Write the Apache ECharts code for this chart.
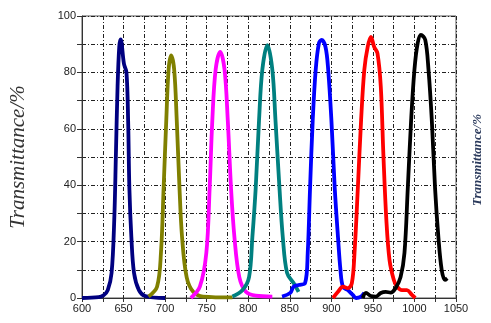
<!DOCTYPE html>
<html><head><meta charset="utf-8">
<script src="https://cdn.jsdelivr.net/npm/echarts@6/dist/echarts.min.js"></script>
<style>html,body{margin:0;padding:0;background:#fff}#c{width:491px;height:323px}</style>
</head><body><div id="c"></div>
<script>
const xTicks = [600, 650, 700, 750, 800, 850, 900, 950, 1000, 1050];
const yTicks = [0, 20, 40, 60, 80, 100];
const titleText = "Transmittance/%";

const navyData = [[600,0],[620,0.3],[626,1],[631,2.8],[635.6,8.9],[638.8,27.7],[640.8,51],[642.8,75],[644.8,89],[646.5,91.7],[650.5,83],[653.5,80],[655.5,63],[657,39],[659.4,21.6],[662.6,8.9],[668.5,2.8],[676,0.7],[700,0]];
const oliveData = [[680,0.5],[690.3,4],[695,16],[698.2,39],[701.4,63],[704.2,81],[707.2,86],[710.9,81],[714,63],[717.3,39],[720.4,21.6],[725.9,7.4],[733.8,2.2],[745.7,0.5],[781,0.2]];
const magentaData = [[731,0],[741.8,4],[749.6,16],[753.6,39],[756.8,63],[760.8,81],[766.3,87.3],[771.5,81],[775.4,63],[779.3,39],[783.4,21.6],[789.3,7.4],[797.2,2.2],[809,0.8],[829,0.5]];
const tealData = [[781,0.5],[793.2,2.8],[801,7.4],[805,21.6],[809,39],[813,63],[817,81],[823,89.7],[829,81],[832.8,63],[837.6,39],[841.6,21.6],[846.7,8.9],[854.6,5.3],[860.6,2.2]];
const blueData = [[840.7,0.5],[850.6,1.8],[854.6,4],[860.6,4.6],[868.4,5.3],[871.6,16],[874.4,39],[877.6,63],[881.2,81],[885.1,90.4],[888.3,91.5],[893,89],[896.2,81],[900.1,63],[904.1,39],[908,21.6],[911,9.9],[914,4],[919.9,2.8],[925.8,1.1],[929.8,0],[935.7,0.5],[939.7,1.8]];
const redData = [[902,0],[908,2.2],[914,4],[920,3.5],[924.7,5.3],[927.9,16],[931.9,39],[935.8,63],[939.7,81],[943.7,89],[947.6,92.6],[951.6,89],[955.5,86.8],[959.5,75],[962.6,51],[966.2,27.7],[970,13.5],[975.2,6.4],[979.2,4],[985,2.8],[991,2.8],[997,1.1],[1001,0]];
const blackData = [[937.8,0],[941.7,1.8],[947.6,0.7],[953.6,0.5],[959.5,1.8],[965.5,2.2],[971.4,1.9],[977.3,3.5],[983.3,7.4],[988,16],[992,39],[996,63],[1000,81],[1003.9,90.4],[1007.8,93.3],[1013,91.5],[1016.9,81],[1020.9,63],[1024.8,39],[1028.8,21.6],[1032.8,9.9],[1036.7,6.4],[1039.5,7]];

const seriesList = [
  {data: navyData, color: '#000080'},
  {data: oliveData, color: '#808000'},
  {data: magentaData, color: '#ff00ff'},
  {data: tealData, color: '#008080'},
  {data: blueData, color: '#0000ff'},
  {data: redData, color: '#ff0000'},
  {data: blackData, color: '#000000'}
];

const gridLine = {show: true, lineStyle: {color: '#222', width: 1, type: [4, 2, 1, 2]}};
const chart = echarts.init(document.getElementById('c'), null, {renderer: 'canvas'});
chart.setOption({
  animation: false,
  backgroundColor: '#ffffff',
  grid: {left: 77, top: 16, width: 379, height: 282, show: true, borderColor: '#555', borderWidth: 1, backgroundColor: 'transparent'},
  xAxis: {
    type: 'value', min: 600, max: 1050, interval: 25,
    axisLine: {show: true, lineStyle: {color: '#333', width: 1}},
    axisTick: {show: true, interval: 1, length: 4, lineStyle: {color: '#333'}},
    axisLabel: {color: '#222', fontSize: 11, fontFamily: 'Liberation Sans', margin: 5,
      formatter: v => xTicks.includes(v) ? String(v) : ''},
    splitLine: gridLine
  },
  yAxis: {
    type: 'value', min: 0, max: 100, interval: 10,
    name: titleText, nameLocation: 'middle', nameRotate: 90, nameGap: 53,
    nameTextStyle: {fontFamily: 'Liberation Serif', fontStyle: 'italic', fontSize: 21, color: '#333'},
    axisLine: {show: true, lineStyle: {color: '#333', width: 1}},
    axisTick: {show: true, length: 5, lineStyle: {color: '#333'}},
    axisLabel: {color: '#222', fontSize: 11, fontFamily: 'Liberation Sans', margin: 6,
      formatter: v => yTicks.includes(v) ? String(v) : ''},
    splitLine: gridLine
  },
  graphic: [{
    type: 'text', x: 478, y: 160, rotation: Math.PI / 2,
    style: {text: titleText, fontFamily: 'Liberation Serif', fontStyle: 'italic', fontWeight: 'bold', fontSize: 13,
      fill: '#2b3a5c', textAlign: 'center', textVerticalAlign: 'middle'}
  }],
  series: seriesList.map(s => ({
    type: 'line', data: s.data, smooth: 0.35, showSymbol: false, symbol: 'none',
    lineStyle: {color: s.color, width: 3.8}, itemStyle: {color: s.color}, clip: false
  }))
});
</script></body></html>
